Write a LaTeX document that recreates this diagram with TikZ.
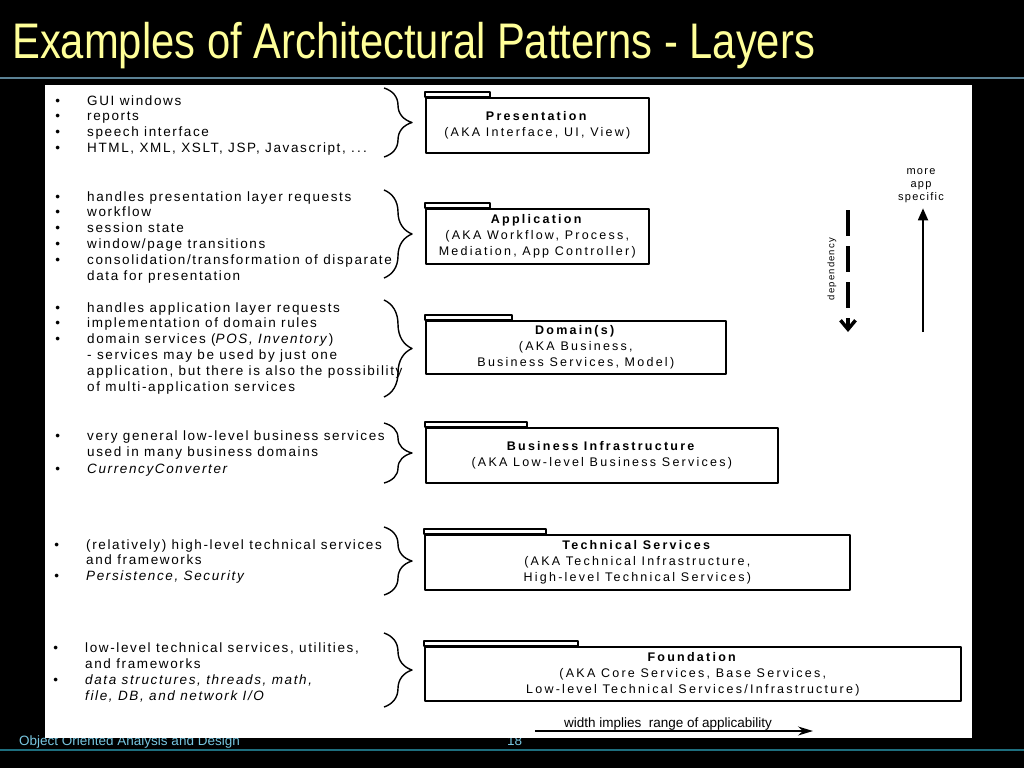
\documentclass[tikz,border=0pt]{standalone}
\usepackage{fontspec}
\setmainfont{Liberation Sans}
\newfontfamily\listfont{Liberation Sans}[LetterSpace=12]
\newfontfamily\boxfont{Liberation Sans}[LetterSpace=18]
\newfontfamily\narrowfont{Liberation Sans}[FakeStretch=0.835]
\usetikzlibrary{arrows.meta,decorations.pathreplacing}
\definecolor{titleyellow}{HTML}{FFFF99}
\definecolor{rulegray}{HTML}{5B8194}
\definecolor{footteal}{HTML}{1E6E7E}
\definecolor{footblue}{HTML}{78C6E0}
\newcommand\bul{\llap{\textbullet\hspace{27pt}}}
\tikzset{
  every picture/.style={line join=round, >=Stealth},
  headline/.style={anchor=base west, inner sep=0pt, text=titleyellow, font=\narrowfont\fontsize{50}{54}\selectfont},
  footer/.style={anchor=base west, inner sep=0pt, text=footblue, font=\fontsize{13.5}{15}\selectfont},
  item/.style={anchor=base west, inner sep=0pt, font=\listfont\fontsize{13.5}{16}\selectfont},
  layer/.style={draw, line width=1.6pt, anchor=north west, inner sep=0pt, align=center, font=\boxfont\fontsize{12.5}{16}\selectfont},
  tab/.style={line width=1.2pt},
  grp/.style={decorate, decoration={brace, amplitude=28pt, aspect=0.5}, line width=1.4pt},
  note/.style={inner sep=2pt, align=center, font=\listfont\fontsize{11}{13}\selectfont},
}
\begin{document}
\begin{tikzpicture}[x=1pt, y=-1pt]
\useasboundingbox (0,0) rectangle (1024,768);
\fill[black] (0,0) rectangle (1024,768);
% slide frame
\node[headline] (title) at (12,59) {Examples of Architectural Patterns - Layers};
\draw[rulegray, line width=2pt] (0,78) -- (1024,78);
\draw[footteal, line width=2pt] (0,750) -- (1024,750);
\node[footer] (course) at (19,745) {Object Oriented Analysis and Design};
\node[footer] (pageno) at (507,745) {18};
\fill[white] (45,85) rectangle (972,738);

% responsibilities, left column
\foreach \txt [count=\k from 0] in {{\bul GUI windows},{\bul reports},{\bul speech interface},
  {\bul HTML, XML, XSLT, JSP, Javascript, .\,.\,.}}
  \node[item] (lp\k) at (87,105+15.7*\k) {\txt};
\foreach \txt [count=\k from 0] in {{\bul handles presentation layer requests},{\bul workflow},
  {\bul session state},{\bul window/page transitions},
  {\bul consolidation/transformation of disparate},{data for presentation}}
  \node[item] (la\k) at (87,201+15.8*\k) {\txt};
\foreach \txt [count=\k from 0] in {{\bul handles application layer requests},
  {\bul implementation of domain rules},{\bul domain services (\textit{POS, Inventory})},
  {- services may be used by just one},{application, but there is also the possibility},
  {of multi-application services}}
  \node[item] (ld\k) at (87,312+15.8*\k) {\txt};
\foreach \txt [count=\k from 0] in {{\bul very general low-level business services},
  {used in many business domains},{\bul \textit{CurrencyConverter}}}
  \node[item] (lb\k) at (87,440+16.5*\k) {\txt};
\foreach \txt [count=\k from 0] in {{\bul (relatively) high-level technical services},
  {and frameworks},{\bul \textit{Persistence, Security}}}
  \node[item] (lt\k) at (86,549+15.5*\k) {\txt};
\foreach \txt [count=\k from 0] in {{\bul low-level technical services, utilities,},
  {and frameworks},{\bul \textit{data structures, threads, math,}},
  {\textit{file, DB, and network I/O}}}
  \node[item] (lf\k) at (85,652+16*\k) {\txt};

% braces
\foreach \a/\b [count=\k] in {88/157,190/278,300/397,423/483,527/595,633/707}{
  \coordinate (bt\k) at (384,\a);
  \coordinate (bb\k) at (384,\b);
  \draw[grp] (bt\k) -- (bb\k);
}

% layers
\node[layer, minimum width=223pt, minimum height=55pt] (presentation) at (425,97)
  {\textbf{Presentation}\\(AKA Interface, UI, View)};
\draw[tab] (presentation.north west) rectangle ++(65,-5);
\node[layer, minimum width=223pt, minimum height=55pt] (application) at (425,208)
  {\textbf{Application}\\(AKA Workflow, Process,\\Mediation, App Controller)};
\draw[tab] (application.north west) rectangle ++(65,-5);
\node[layer, minimum width=300pt, minimum height=53pt] (domain) at (425,320)
  {\textbf{Domain(s)}\\(AKA Business,\\Business Services, Model)};
\draw[tab] (domain.north west) rectangle ++(87,-5);
\node[layer, minimum width=352pt, minimum height=55pt] (business) at (425,427)
  {\textbf{Business Infrastructure}\\(AKA Low-level Business Services)};
\draw[tab] (business.north west) rectangle ++(102,-5);
\node[layer, minimum width=425pt, minimum height=55pt] (technical) at (424,534)
  {\textbf{Technical Services}\\(AKA Technical Infrastructure,\\High-level Technical Services)};
\draw[tab] (technical.north west) rectangle ++(122,-5);
\node[layer, minimum width=536pt, minimum height=54pt] (foundation) at (424,646)
  {\textbf{Foundation}\\(AKA Core Services, Base Services,\\Low-level Technical Services/Infrastructure)};
\draw[tab] (foundation.north west) rectangle ++(154,-5);

% dependency and specificity
\coordinate (deptop) at (848,210);
\coordinate (depbot) at (848,332);
\draw[line width=3.5pt, dash pattern=on 26pt off 10pt, -{Straight Barb[length=9pt,width=15pt]}] (deptop) -- (depbot);
\node[note, rotate=90, font=\listfont\fontsize{9.5}{11}\selectfont] (deplabel) at (832,269) {dependency};
\node[note] (more) at (921,186) {more\\app\\specific};
\coordinate (upbase) at (923,332);
\draw[line width=1.8pt, shorten >=3pt, -{Triangle[length=12pt,width=10pt]}] (upbase) -- (upbase |- more.south);

% width arrow
\node[anchor=base, inner sep=0pt, font=\fontsize{13.5}{15}\selectfont] (range) at (668,727) {width implies\ \ range of applicability};
\coordinate (wl) at (535,731);
\coordinate (wr) at (813,731);
\draw[line width=1.4pt, -{Stealth[length=15pt,width=9pt]}] (wl) -- (wr);
\end{tikzpicture}
\end{document}
